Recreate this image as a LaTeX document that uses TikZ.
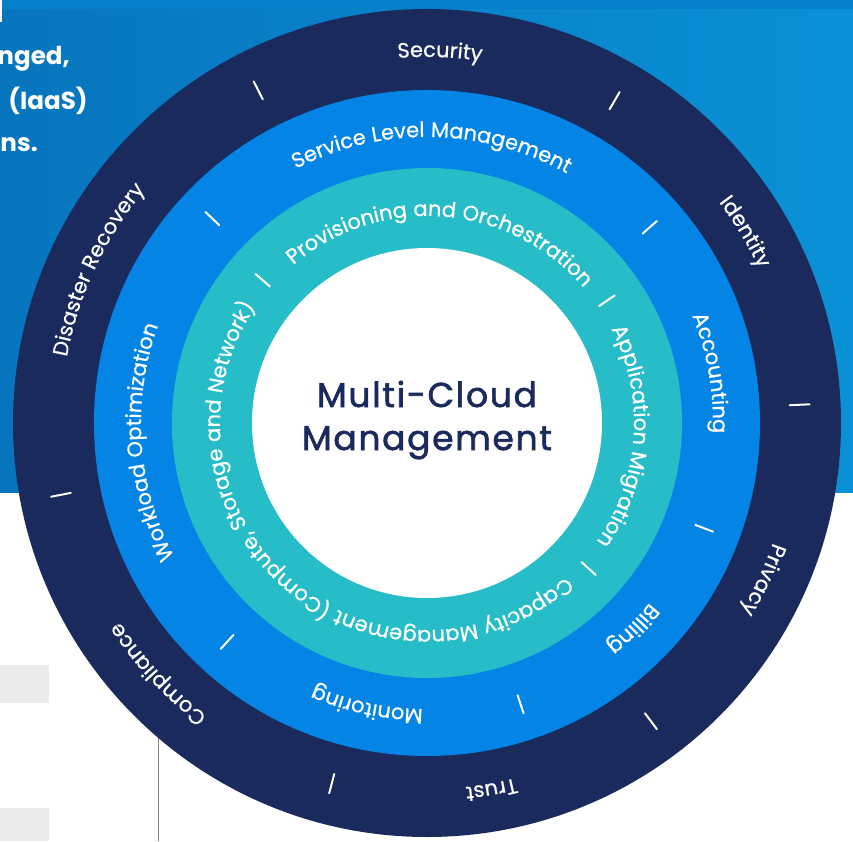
\documentclass[tikz,border=0pt]{standalone}
\usepackage{fontspec}
\usepackage{tikz}
\usepackage{xcolor}
\usetikzlibrary{decorations.text}
\setmainfont{Poppins}
\newfontfamily\corefont[LetterSpace=5, FakeBold=1.8]{Poppins}
\newfontfamily\ringface[LetterSpace=2.5, FakeBold=0.6]{Poppins}
\definecolor{mcnavy}{RGB}{27,42,92}
\definecolor{mcblue}{RGB}{4,133,230}
\definecolor{mcteal}{RGB}{38,189,201}
\definecolor{mcskyL}{RGB}{7,117,190}
\definecolor{mcskyR}{RGB}{10,145,213}
\definecolor{mcstrip}{RGB}{4,128,200}
\definecolor{mcgray}{RGB}{235,235,235}
\newcommand{\ringfont}{\ringface\fontsize{14.9}{16}\selectfont}
\tikzset{
    ringtext/.style={decorate, decoration={text along path, text align=center,
        text color=white, text={|\ringfont|#1}}},
    ringtick/.style={draw=white, line width=1.4pt, line cap=round},
    introtext/.style={text=white, font=\bfseries\fontsize{17.5}{20}\selectfont, inner sep=0pt},
    coretext/.style={text=mcnavy, font=\corefont\fontsize{24.5}{28}\selectfont, inner sep=0pt}
}

\begin{document}
\begin{tikzpicture}[x=0.025cm, y=0.025cm]
    \useasboundingbox (-427,-418) rectangle (426,423);
    \fill[white] (-427,-418) rectangle (426,423);
    \shade[left color=mcskyL, right color=mcskyR] (-427,-69) rectangle (426,423);
    \fill[mcstrip] (-427,414) rectangle (426,423);
    \fill[white] (-427,401) rectangle (-425,423);
    \fill[mcgray] (-427,-242) rectangle (-378,-280);
    \fill[mcgray] (-427,-385) rectangle (-378,-418);
    \draw[gray, line width=0.7pt] (-269,-300) -- (-269,-418);

    \node[introtext, anchor=base east] (introA) at (-357,358) {nged,};
    \node[introtext, anchor=base east] (introB) at (-339,313) {(IaaS)};
    \node[introtext, anchor=base east] (introC) at (-389,271) {ns.};

    \fill[mcnavy] (0,0) circle (414);
    \fill[mcblue] (0,0) circle (333);
    \fill[mcteal] (0,0) circle (255);
    \fill[white] (0,0) circle (175);

    \foreach \a in {116.9, 59.8, 2.8, -53.1, -104.8, 191.1}
        \draw[ringtick] (\a:363) -- (\a:383);
    \foreach \a in {136.4, 41.3, -20.8, -71.6, 227.6}
        \draw[ringtick] (\a:287) -- (\a:306);
    \foreach \a in {139, 34.2, -42}
        \draw[ringtick] (\a:208) -- (\a:227);

    \path[ringtext=Security] (168:366) arc[start angle=168, end angle=8, radius=366];
    \path[ringtext=Identity] (111:366) arc[start angle=111, end angle=-49, radius=366];
    \path[ringtext=Privacy] (55:366) arc[start angle=55, end angle=-105, radius=366];
    \path[ringtext=Trust] (0:366) arc[start angle=0, end angle=-160, radius=366];
    \path[ringtext=Compliance] (303:366) arc[start angle=303, end angle=143, radius=366];
    \path[ringtext=Disaster Recovery] (235:366) arc[start angle=235, end angle=75, radius=366];

    \path[ringtext=Service Level Management] (169:286) arc[start angle=169, end angle=9, radius=286];
    \path[ringtext=Accounting] (90:286) arc[start angle=90, end angle=-70, radius=286];
    \path[ringtext=Billing] (35:286) arc[start angle=35, end angle=-125, radius=286];
    \path[ringtext=Monitoring] (-22:286) arc[start angle=-22, end angle=-182, radius=286];
    \path[ringtext=Workload Optimization] (264:286) arc[start angle=264, end angle=104, radius=286];

    \path[ringtext=Provisioning and Orchestration] (166:207) arc[start angle=166, end angle=5, radius=207];
    \path[ringtext=Application Migration] (76:207) arc[start angle=76, end angle=-84, radius=207];
    \path[ringtext={Capacity Management (Compute, Storage and Network)}] (-11:207) arc[start angle=-11, end angle=-251, radius=207];

    \node[coretext, anchor=base] (coreA) at (0,16) {Multi-Cloud};
    \node[coretext, anchor=base] (coreB) at (0,-27) {Management};
\end{tikzpicture}
\end{document}
